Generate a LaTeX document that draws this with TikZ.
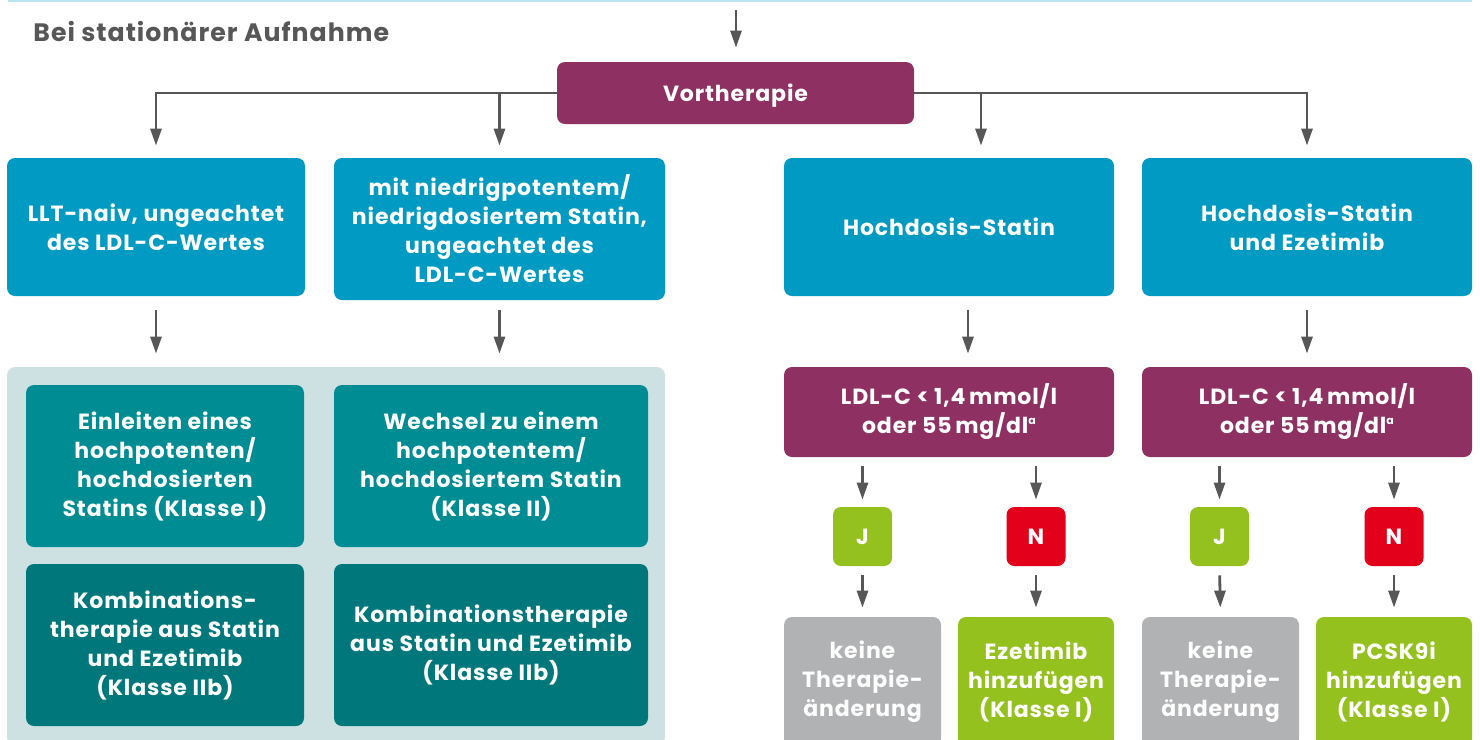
\documentclass[tikz,border=0pt]{standalone}
\usepackage{fontspec}
\setmainfont{Poppins}[LetterSpace=4]
\usetikzlibrary{arrows.meta,calc,positioning}

\definecolor{vtpurple}{HTML}{8E3062}
\definecolor{vtblue}{HTML}{009AC3}
\definecolor{vtteal}{HTML}{008C93}
\definecolor{vtdark}{HTML}{00787B}
\definecolor{panelbg}{HTML}{CDE1E3}
\definecolor{nogray}{HTML}{B1B2B4}
\definecolor{yesgreen}{HTML}{95C11F}
\definecolor{nored}{HTML}{E2001A}
\definecolor{arrgray}{HTML}{575757}
\definecolor{topblue}{HTML}{B9E4F0}
\newcommand{\supa}{\raisebox{0.75ex}{\fontsize{5.5}{5}\selectfont a}}

\begin{document}
\begin{tikzpicture}[x=0.5pt,y=-0.5pt,
  box/.style={rounded corners=4pt, text=white, align=center, inner sep=0pt,
    font=\fontsize{11}{14.5}\selectfont\bfseries},
  arr/.style={draw=arrgray, line width=1.4pt, -{Triangle[width=5.5pt,length=8.5pt]}}]
  \path[use as bounding box, clip] (0,0) rectangle (1480,740);
  \draw[topblue, line width=1pt] (8,1) -- (1472,1);
  \node[anchor=west, inner sep=0pt, text=arrgray,
    font=\fontsize{12.6}{15}\selectfont\bfseries] (title) at (33,32) {Bei stationärer Aufnahme};

  % Vortherapie and the four starting situations
  \node[box, fill=vtpurple, minimum width=178.5pt, minimum height=31pt, text depth=0pt] (vor) at (735.5,93) {Vortherapie};
  \node[box, fill=vtblue, minimum width=149pt, minimum height=69pt] (b1) at (156,227)
    {LLT-naiv, ungeachtet\\des LDL-C-Wertes};
  \node[box, fill=vtblue, minimum width=165.5pt, minimum height=71pt] (b2) at (499.5,229)
    {mit niedrigpotentem/\\niedrigdosiertem Statin,\\ungeachtet des\\LDL-C-Wertes};
  \node[box, fill=vtblue, minimum width=165pt, minimum height=69pt] (b3) at (949,227) {Hochdosis-Statin};
  \node[box, fill=vtblue, minimum width=165pt, minimum height=69pt] (b4) at (1307,227)
    {Hochdosis-Statin\\und Ezetimib};

  % left panel
  \node[fill=panelbg, rounded corners=4pt, minimum width=329pt, minimum height=189pt] (panel) at (336,556) {};
  \node[box, fill=vtteal, minimum width=139pt, minimum height=81pt] (t1) at (165,466)
    {Einleiten eines\\hochpotenten/\\hochdosierten\\Statins (Klasse I)};
  \node[box, fill=vtteal, minimum width=157pt, minimum height=81pt] (t2) at (491,466)
    {Wechsel zu einem\\hochpotentem/\\hochdosiertem Statin\\(Klasse II)};
  \node[box, fill=vtdark, minimum width=139pt, minimum height=81pt] (t3) at (165,645)
    {Kombinations-\\therapie aus Statin\\und Ezetimib\\(Klasse IIb)};
  \node[box, fill=vtdark, minimum width=157pt, minimum height=81pt] (t4) at (491,645)
    {Kombinationstherapie\\aus Statin und Ezetimib\\(Klasse IIb)};

  % target check
  \node[box, fill=vtpurple, minimum width=165pt, minimum height=45pt] (p1) at (949,412)
    {LDL-C < 1,4\,mmol/l\\oder 55\,mg/dl\supa};
  \node[box, fill=vtpurple, minimum width=165pt, minimum height=45pt] (p2) at (1307,412)
    {LDL-C < 1,4\,mmol/l\\oder 55\,mg/dl\supa};
  \node[box, fill=yesgreen, minimum size=29.5pt] (j1) at (862.5,536.5) {J};
  \node[box, fill=nored, minimum size=29.5pt] (n1) at (1036,536.5) {N};
  \node[box, fill=yesgreen, minimum size=29.5pt] (j2) at (1219.5,536.5) {J};
  \node[box, fill=nored, minimum size=29.5pt] (n2) at (1394,536.5) {N};
  \node[box, fill=nogray, minimum width=78.5pt, minimum height=65pt] (g1) at (862.5,682)
    {keine\\Therapie-\\änderung};
  \node[box, fill=yesgreen, minimum width=78pt, minimum height=65pt] (e1) at (1036,682)
    {Ezetimib\\hinzufügen\\(Klasse I)};
  \node[box, fill=nogray, minimum width=78.5pt, minimum height=65pt] (g2) at (1220.5,682)
    {keine\\Therapie-\\änderung};
  \node[box, fill=yesgreen, minimum width=78pt, minimum height=65pt] (e2) at (1394,682)
    {PCSK9i\\hinzufügen\\(Klasse I)};

  % connectors
  \coordinate (in) at (736,10);
  \coordinate (b3top) at ($(b3.north)+(32,0)$);
  \draw[arr, shorten >=7pt] (in) -- (in |- vor.north);
  \draw[arr, shorten >=6pt] (vor.west) -| (b1.north);
  \draw[arr, shorten >=6pt] (vor.west) -| (b2.north);
  \draw[arr, shorten >=6pt] (vor.east) -| (b3top);
  \draw[arr, shorten >=6pt] (vor.east) -| (b4.north);
  \draw[arr, shorten <=7pt, shorten >=6.5pt] (b1.south) -- (b1.south |- panel.north);
  \draw[arr, shorten <=5pt, shorten >=6.5pt] (b2.south) -- (b2.south |- panel.north);
  \draw[arr, shorten <=7pt, shorten >=6.5pt] ($(b3.south)+(19,0)$) -- ($(p1.north)+(19,0)$);
  \draw[arr, shorten <=7pt, shorten >=6.5pt] (b4.south) -- (b4.south |- p2.north);
  \foreach \p/\a/\b in {p1/j1/g1, p1/n1/e1, p2/j2/g2, p2/n2/e2}{
    \draw[arr, shorten <=4.5pt, shorten >=3.5pt] (\p.south -| \a.north) -- (\a.north);
    \draw[arr, shorten <=4.5pt, shorten >=4.5pt] (\a.south) -- (\b.north);
  }
\end{tikzpicture}
\end{document}
